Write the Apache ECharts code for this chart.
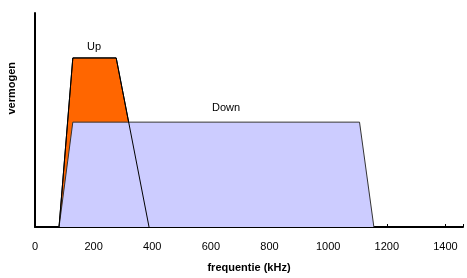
<!DOCTYPE html>
<html>
<head>
<meta charset="utf-8">
<script src="https://cdn.jsdelivr.net/npm/echarts@6/dist/echarts.min.js"></script>
<style>
    html, body { margin: 0; padding: 0; background: #fff; }
    #chart { width: 467px; height: 278px; }
</style>
</head>
<body>
<div id="chart"></div>
<script>
// frequentie (kHz) / vermogen punten
var upFreq = [82, 129, 277, 389];
var upPower = [0, 79, 79, 0];
var downFreq = [82, 129, 1107, 1156];
var downPower = [0, 49, 49, 0];
var xTicks = [0, 200, 400, 600, 800, 1000, 1200, 1400];

var toPairs = function ( xs, ys ) {
    var out = [];
    for ( var i = 0; i < xs.length; i++ ) {
        out.push( [xs[i], ys[i]] );
    }
    return out;
}

var font = 'Liberation Sans, Arial, sans-serif';
var chart = echarts.init( document.getElementById( 'chart' ), null, { renderer: 'canvas' } );

var option = {
    animation: false,
    grid: { left: 35, right: 4, top: 13, bottom: 50 },
    xAxis: {
        type: 'value',
        min: 0,
        max: 1460,
        interval: 200,
        name: 'frequentie (kHz)',
        nameLocation: 'middle',
        nameGap: 35,
        nameTextStyle: { fontFamily: font, fontSize: 11, fontWeight: 'bold', color: '#000' },
        axisLine: { lineStyle: { color: '#000', width: 2 } },
        axisTick: { inside: true, length: 3, lineStyle: { color: '#000', width: 1 } },
        axisLabel: {
            fontFamily: font, fontSize: 11, color: '#000', margin: 14,
            formatter: function ( v ) { return xTicks.indexOf( v ) >= 0 ? v : ''; }
        },
        splitLine: { show: false }
    },
    yAxis: {
        type: 'value',
        min: 0,
        max: 100,
        axisLine: { show: true, lineStyle: { color: '#000', width: 2 } },
        axisTick: { show: false },
        axisLabel: { show: false },
        splitLine: { show: false }
    },
    graphic: [{
        type: 'text',
        left: 6, top: 62,
        rotation: Math.PI / 2,
        style: { text: 'vermogen', font: 'bold 11px ' + font, fill: '#000' }
    }, {
        type: 'text',
        left: 87, top: 41,
        style: { text: 'Up', font: '11px ' + font, fill: '#000' }
    }, {
        type: 'text',
        left: 212, top: 102,
        style: { text: 'Down', font: '11px ' + font, fill: '#000' }
    }],
    series: [{
        name: 'Up',
        type: 'line',
        data: toPairs( upFreq, upPower ),
        symbol: 'none',
        lineStyle: { color: '#000', width: 1 },
        areaStyle: { color: '#ff6600', opacity: 1 },
        z: 1
    }, {
        name: 'Down',
        type: 'line',
        data: toPairs( downFreq, downPower ),
        symbol: 'none',
        lineStyle: { color: '#333', width: 1 },
        areaStyle: { color: '#ccccff', opacity: 1 },
        z: 2
    }, {
        // rand van Up bovenop Down
        name: 'UpEdge',
        type: 'line',
        data: toPairs( upFreq, upPower ),
        symbol: 'none',
        lineStyle: { color: '#000', width: 1 },
        z: 3
    }]
};
chart.setOption( option );
</script>
</body>
</html>
